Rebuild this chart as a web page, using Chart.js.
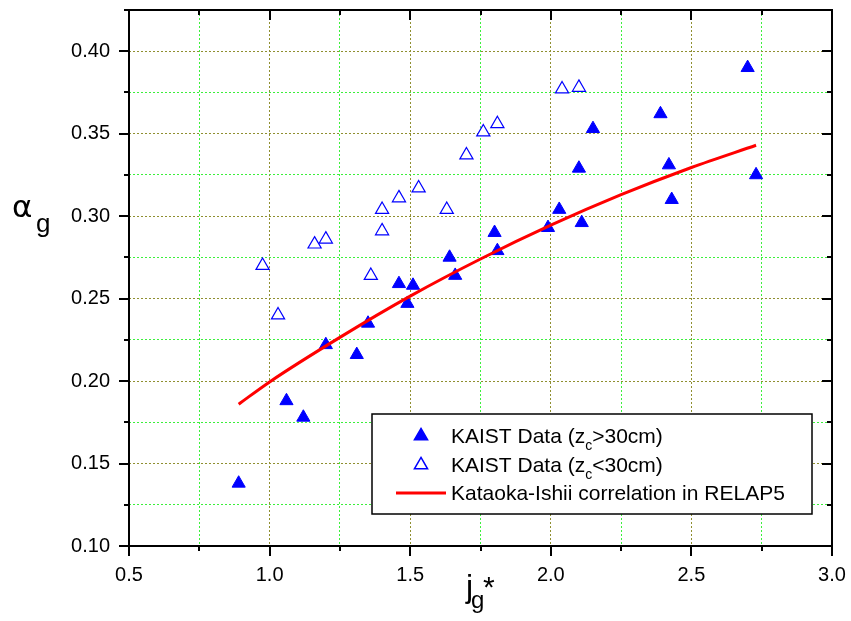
<!DOCTYPE html>
<html>
<head>
<meta charset="utf-8">
<script src="https://cdn.jsdelivr.net/npm/chart.js@4"></script>
<style>
  html, body { margin: 0; padding: 0; background: #fff; }
  #chart { display: block; }
</style>
</head>
<body>
<canvas id="chart" width="851" height="621"></canvas>
<script>
// KAIST void fraction data, filled = z_c > 30 cm, open = z_c < 30 cm
const filledJg = [0.89, 1.06, 1.12, 1.20, 1.31, 1.35, 1.46, 1.49, 1.51, 1.64, 1.66, 1.80, 1.81, 1.99, 2.03, 2.10, 2.11, 2.15, 2.39, 2.42, 2.43, 2.70, 2.73];
const filledAlpha = [0.138, 0.188, 0.178, 0.222, 0.216, 0.235, 0.259, 0.247, 0.258, 0.275, 0.264, 0.290, 0.279, 0.293, 0.304, 0.329, 0.296, 0.353, 0.362, 0.331, 0.310, 0.390, 0.325];

const openJg = [0.975, 1.03, 1.16, 1.20, 1.36, 1.40, 1.40, 1.46, 1.53, 1.63, 1.70, 1.76, 1.81, 2.04, 2.10];
const openAlpha = [0.270, 0.240, 0.283, 0.286, 0.264, 0.291, 0.304, 0.311, 0.317, 0.304, 0.337, 0.351, 0.356, 0.377, 0.378];

// Kataoka-Ishii correlation as used in RELAP5
const relapJg = [0.89, 1.0, 1.25, 1.5, 1.75, 2.0, 2.25, 2.5, 2.73];
const relapAlpha = [0.186, 0.1995, 0.2265, 0.2515, 0.274, 0.2945, 0.313, 0.3295, 0.343];

const xRange = [0.5, 3.0];
const yRange = [0.10, 0.425];
const xStep = 0.25;
const yStep = 0.025;
const xMajor = 0.5;
const yMajor = 0.05;

const legendLabels = [
  ["KAIST Data (z", "c", ">30cm)"],
  ["KAIST Data (z", "c", "<30cm)"],
  ["Kataoka-Ishii correlation in RELAP5", "", ""],
];

const BLUE = "#0000ff";
const RED = "#ff0000";
const FONT = "'Liberation Sans', Arial, sans-serif";

const toPoints = (xs, ys) => xs.map((x, i) => ({ x, y: ys[i] }));
const isMajor = (v, step) => Math.abs(v / step - Math.round(v / step)) < 1e-6;

const gridColor = (step) => (ctx) =>
  isMajor(ctx.tick.value, step) ? "#8f8f30" : "#3cf03c";

// scales keep only the size we give them, no extra room for edge labels
const fixSize = (prop, size) => (scale) => {
  scale[prop] = size;
  scale.paddingTop = 0;
  scale.paddingBottom = 0;
  scale.paddingLeft = 0;
  scale.paddingRight = 0;
};

const drawLine = (ctx, x1, y1, x2, y2) => {
  ctx.beginPath();
  ctx.moveTo(x1, y1);
  ctx.lineTo(x2, y2);
  ctx.stroke();
};

const framePlugin = {
  id: "frame",
  afterDraw(chart) {
    const { ctx, chartArea: a, scales } = chart;
    const xs = scales.x;
    const ys = scales.y;
    ctx.save();
    ctx.strokeStyle = "#000";
    ctx.lineWidth = 2;
    ctx.strokeRect(a.left, a.top, a.right - a.left, a.bottom - a.top);

    for (const t of xs.ticks) {
      const px = Math.round(xs.getPixelForValue(t.value));
      const len = isMajor(t.value, xMajor) ? 10 : 5;
      drawLine(ctx, px, a.bottom, px, a.bottom + len);
      drawLine(ctx, px, a.top, px, a.top + len);
    }
    for (const t of ys.ticks) {
      const py = Math.round(ys.getPixelForValue(t.value));
      const len = isMajor(t.value, yMajor) ? 10 : 5;
      drawLine(ctx, a.left - len, py, a.left, py);
      drawLine(ctx, a.right - len, py, a.right, py);
    }

    // axis titles
    ctx.fillStyle = "#000";
    ctx.textBaseline = "alphabetic";
    ctx.textAlign = "left";
    ctx.font = "31px 'DejaVu Sans'";
    ctx.fillText("α", 12, 217);
    ctx.font = "26px " + FONT;
    ctx.fillText("g", 36, 232);

    ctx.font = "32px " + FONT;
    ctx.fillText("j", 466, 597);
    ctx.font = "24px " + FONT;
    ctx.fillText("g", 471, 608);
    ctx.font = "30px " + FONT;
    ctx.fillText("*", 483, 597);

    // legend box
    const box = { left: 372, top: 414, right: 812, bottom: 514 };
    ctx.fillStyle = "#fff";
    ctx.fillRect(box.left, box.top, box.right - box.left, box.bottom - box.top);
    ctx.lineWidth = 1.5;
    ctx.strokeRect(box.left, box.top, box.right - box.left, box.bottom - box.top);

    const rowY = [436, 465, 493];
    const sets = chart.data.datasets;
    const order = [1, 2, 0];
    order.forEach((di, row) => {
      const ds = sets[di];
      const cy = rowY[row];
      if (ds.showLine) {
        ctx.strokeStyle = ds.borderColor;
        ctx.lineWidth = ds.borderWidth;
        drawLine(ctx, 396, cy, 446, cy);
      } else {
        ctx.fillStyle = ds.pointBackgroundColor;
        ctx.strokeStyle = ds.pointBorderColor;
        Chart.helpers.drawPoint(ctx, {
          pointStyle: "triangle",
          radius: ds.pointRadius,
          rotation: 0,
          borderWidth: ds.pointBorderWidth,
        }, 421, cy);
      }
      const [head, sub, tail] = legendLabels[row];
      const base = cy + 7;
      ctx.fillStyle = "#000";
      ctx.font = "21px " + FONT;
      ctx.fillText(head, 451, base);
      let x = 451 + ctx.measureText(head).width;
      if (sub) {
        ctx.font = "14px " + FONT;
        ctx.fillText(sub, x, base + 7);
        x += ctx.measureText(sub).width;
        ctx.font = "21px " + FONT;
        ctx.fillText(tail, x, base);
      }
    });
    ctx.restore();
  },
};

new Chart(document.getElementById("chart"), {
  type: "scatter",
  data: {
    datasets: [
      {
        label: "Kataoka-Ishii correlation in RELAP5",
        data: toPoints(relapJg, relapAlpha),
        showLine: true,
        borderColor: RED,
        borderWidth: 3,
        pointRadius: 0,
        cubicInterpolationMode: "monotone",
        order: 0,
      },
      {
        label: "KAIST Data (zc>30cm)",
        data: toPoints(filledJg, filledAlpha),
        pointStyle: "triangle",
        pointRadius: 7.6,
        pointBackgroundColor: BLUE,
        pointBorderColor: BLUE,
        pointBorderWidth: 1,
        order: 1,
      },
      {
        label: "KAIST Data (zc<30cm)",
        data: toPoints(openJg, openAlpha),
        pointStyle: "triangle",
        pointRadius: 7.6,
        pointBackgroundColor: "#fff",
        pointBorderColor: BLUE,
        pointBorderWidth: 1.2,
        order: 2,
      },
    ],
  },
  options: {
    responsive: false,
    animation: false,
    devicePixelRatio: 1,
    layout: { padding: { top: 10, right: 19, left: 0, bottom: 0 } },
    plugins: {
      legend: { display: false },
      tooltip: { enabled: false },
    },
    scales: {
      x: {
        type: "linear",
        min: xRange[0],
        max: xRange[1],
        afterFit: fixSize("height", 75),
        ticks: {
          stepSize: xStep,
          autoSkip: false,
          maxRotation: 0,
          padding: 17,
          color: "#000",
          font: { family: FONT, size: 20 },
          callback: (v) => (isMajor(v, xMajor) ? v.toFixed(1) : ""),
        },
        grid: { color: gridColor(xMajor), lineWidth: 1, drawTicks: false },
        border: { display: false, dash: [2, 2] },
      },
      y: {
        type: "linear",
        min: yRange[0],
        max: yRange[1],
        afterFit: fixSize("width", 129),
        ticks: {
          stepSize: yStep,
          autoSkip: false,
          padding: 19,
          color: "#000",
          font: { family: FONT, size: 20 },
          callback: (v) => (isMajor(v, yMajor) ? v.toFixed(2) : ""),
        },
        grid: { color: gridColor(yMajor), lineWidth: 1, drawTicks: false },
        border: { display: false, dash: [2, 2] },
      },
    },
  },
  plugins: [framePlugin],
});
</script>
</body>
</html>
